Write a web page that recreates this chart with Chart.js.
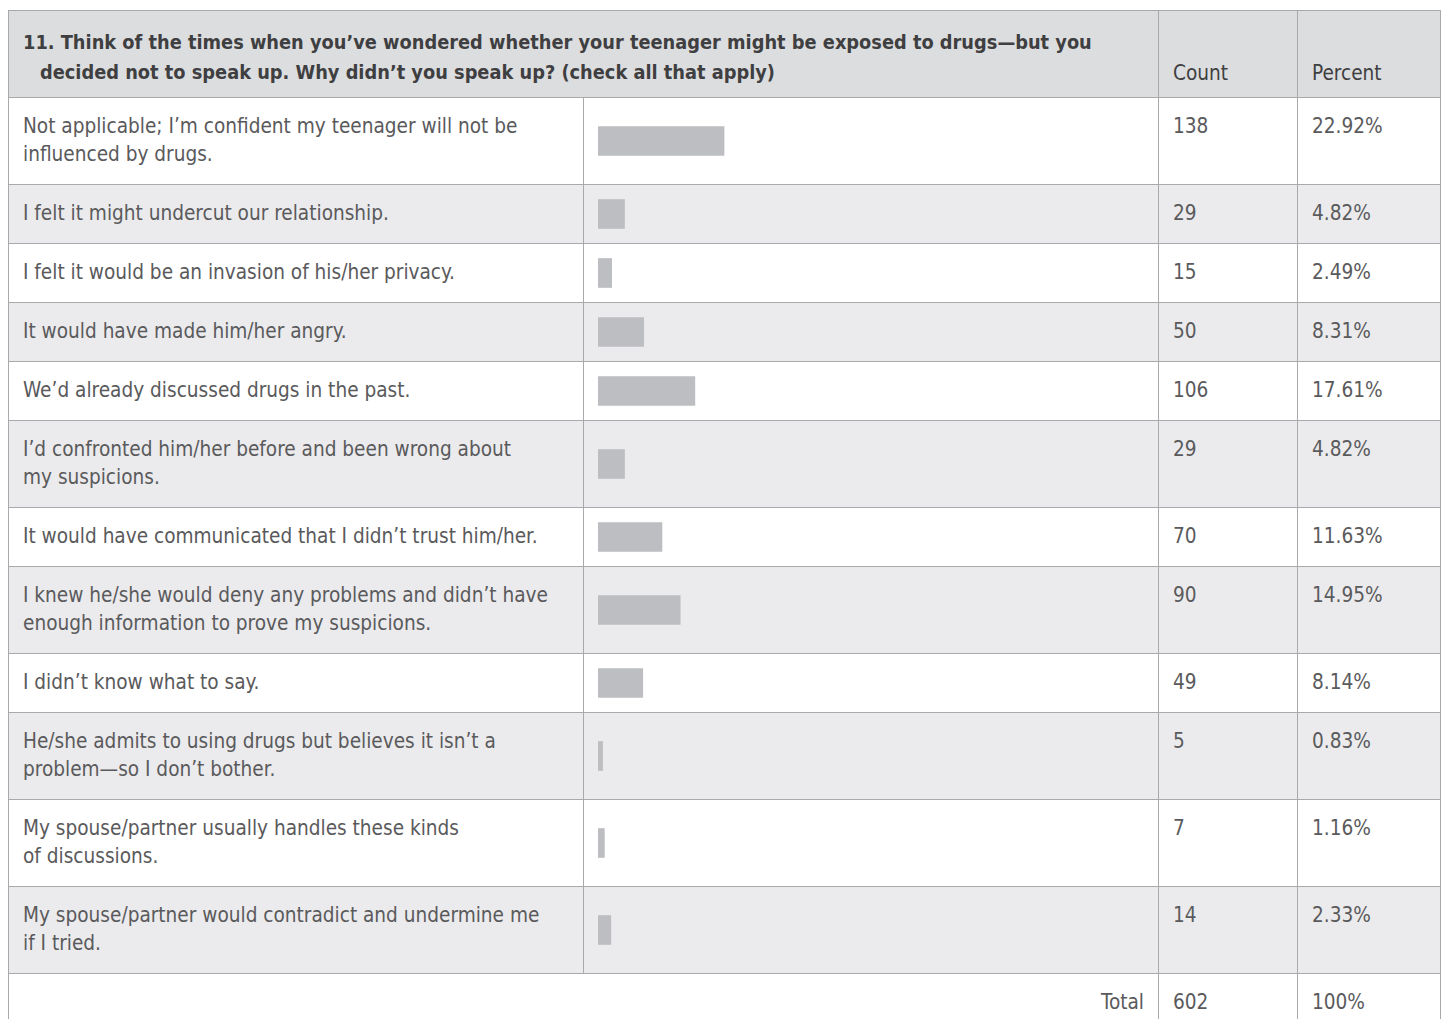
<!DOCTYPE html>
<html>
<head>
<meta charset="utf-8">
<script src="https://cdn.jsdelivr.net/npm/chart.js@4.4.1/dist/chart.umd.min.js"></script>
<style>
  body { margin: 0; background: #fff; font-family: "Liberation Sans Narrow", "DejaVu Sans Condensed", sans-serif; color: #5a5a5c; }
  .tbl { position: absolute; left: 8px; top: 10px; width: 1433px; box-sizing: border-box; border: 1px solid #a9a9ab; border-bottom: none; }
  .row { display: flex; border-top: 1px solid #a9a9ab; }
  .row:first-child { border-top: none; }
  .row.alt { background: #ebebed; }
  .row.head { background: #dcdddf; color: #3f3f41; }
  .cell { box-sizing: border-box; border-right: 1px solid #a9a9ab; padding: 14px 14px 16px 14px; font-size: 20.6px; line-height: 28px; white-space: nowrap; }
  .cell:last-child { border-right: none; }
  .c1 { width: 575px; }
  .c2 { width: 575px; position: relative; padding: 0; }
  .c12 { width: 1150px; }
  .c3 { width: 139px; }
  .c4 { width: 142px; }
  .head .cell { padding: 17px 14px 9px 14px; line-height: 30px; display: flex; align-items: flex-end; }
  .head .q { display: block; padding-left: 17px; text-indent: -17px; font-weight: bold; font-size: 19.8px; }
  .total .c12 { text-align: right; }
  .c2 .wrap { position: absolute; left: 0; top: 0; right: 0; bottom: 0; }
</style>
</head>
<body>
<div class="tbl" id="tbl"></div>
<script>
// survey question 11 - reasons for not speaking up
const questionLines = [
  "11. Think of the times when you\u2019ve wondered whether your teenager might be exposed to drugs\u2014but you",
  "decided not to speak up. Why didn\u2019t you speak up? (check all that apply)"
];
const answers = [
  ["Not applicable; I\u2019m confident my teenager will not be", "influenced by drugs."],
  ["I felt it might undercut our relationship."],
  ["I felt it would be an invasion of his/her privacy."],
  ["It would have made him/her angry."],
  ["We\u2019d already discussed drugs in the past."],
  ["I\u2019d confronted him/her before and been wrong about", "my suspicions."],
  ["It would have communicated that I didn\u2019t trust him/her."],
  ["I knew he/she would deny any problems and didn\u2019t have", "enough information to prove my suspicions."],
  ["I didn\u2019t know what to say."],
  ["He/she admits to using drugs but believes it isn\u2019t a", "problem\u2014so I don\u2019t bother."],
  ["My spouse/partner usually handles these kinds", "of discussions."],
  ["My spouse/partner would contradict and undermine me", "if I tried."]
];
const counts = [138, 29, 15, 50, 106, 29, 70, 90, 49, 5, 7, 14];
const percents = [22.92, 4.82, 2.49, 8.31, 17.61, 4.82, 11.63, 14.95, 8.14, 0.83, 1.16, 2.33];
const totalCount = 602;
const totalPercent = "100%";

const tbl = document.getElementById("tbl");

// header row
let html = '<div class="row head"><div class="cell c12"><span class="q">' + questionLines.join("<br>") + '</span></div>' +
  '<div class="cell c3">Count</div><div class="cell c4">Percent</div></div>';

answers.forEach((lines, i) => {
  html += '<div class="row' + (i % 2 ? ' alt' : '') + '">' +
    '<div class="cell c1">' + lines.join("<br>") + '</div>' +
    '<div class="cell c2"><div class="wrap"><canvas id="bar' + i + '"></canvas></div></div>' +
    '<div class="cell c3">' + counts[i] + '</div>' +
    '<div class="cell c4">' + percents[i].toFixed(2) + '%</div></div>';
});

html += '<div class="row total"><div class="cell c12">Total</div><div class="cell c3">' + totalCount +
  '</div><div class="cell c4">' + totalPercent + '</div></div>';
tbl.innerHTML = html;

// one little bar chart per row, 0-100% across the cell
percents.forEach((p, i) => {
  new Chart(document.getElementById("bar" + i), {
    type: "bar",
    data: {
      labels: [answers[i].join(" ")],
      datasets: [{
        data: [p],
        backgroundColor: "#bdbec1",
        barThickness: 29,
        borderWidth: 0
      }]
    },
    options: {
      indexAxis: "y",
      responsive: true,
      maintainAspectRatio: false,
      animation: false,
      events: [],
      layout: { padding: { left: 14, right: 10, top: 0, bottom: 0 } },
      scales: {
        x: { display: false, min: 0, max: 100 },
        y: { display: false }
      },
      plugins: { legend: { display: false }, tooltip: { enabled: false } }
    }
  });
});
</script>
</body>
</html>
